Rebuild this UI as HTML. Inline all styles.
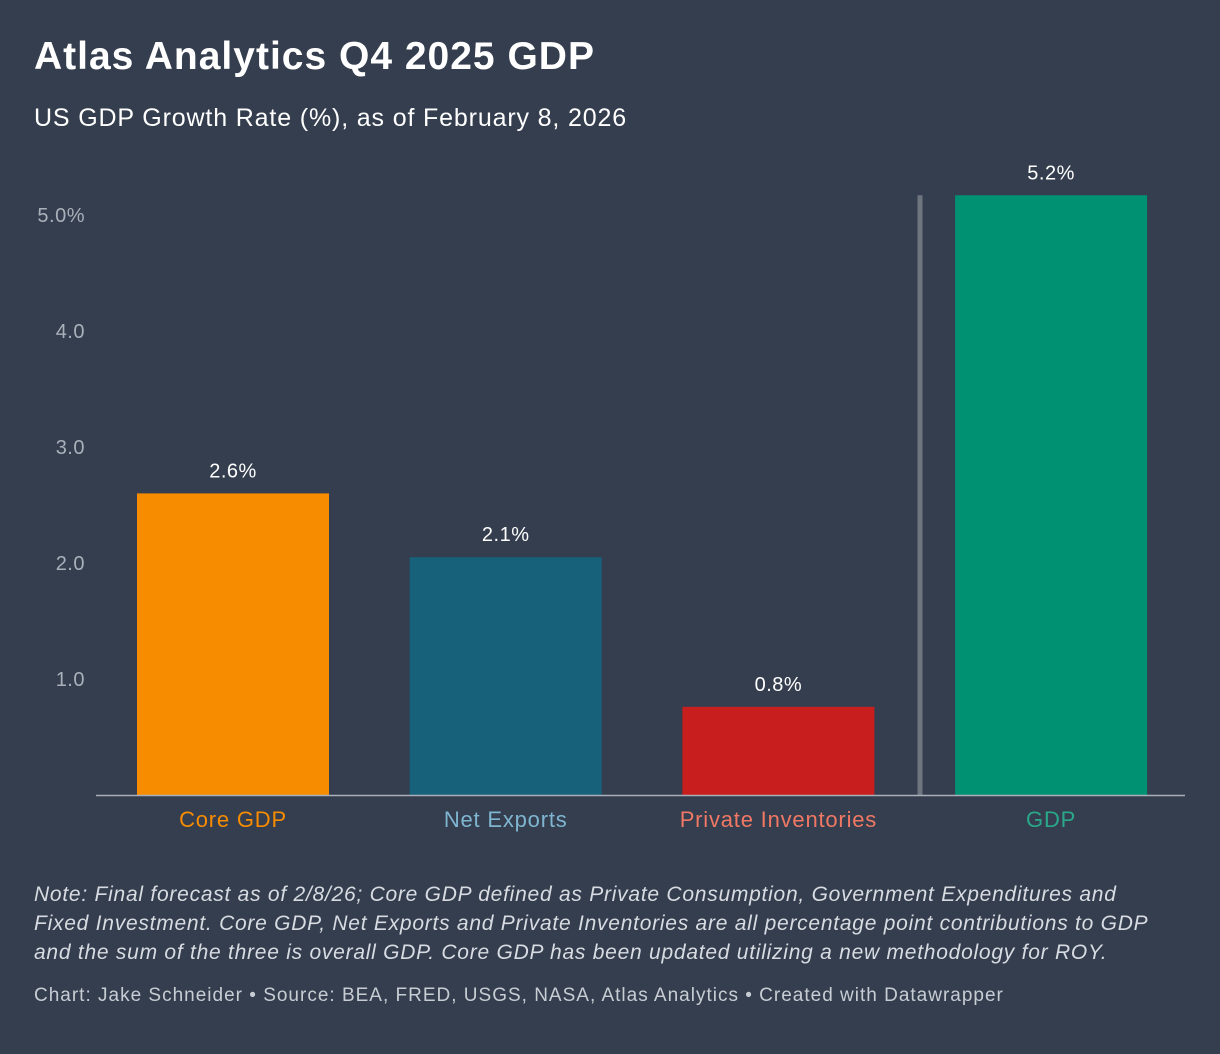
<!DOCTYPE html>
<html><head><meta charset="utf-8"><style>
body{margin:0;width:1220px;height:1054px;background:#343e4e;font-family:"Liberation Sans",sans-serif;overflow:hidden;position:relative}
.t{position:absolute;white-space:nowrap}
</style></head><body>
<div class="t" style="left:34px;top:35px;font-size:39px;letter-spacing:1px;font-weight:bold;color:#fff">Atlas Analytics Q4 2025 GDP</div>
<div class="t" style="left:34px;top:104px;font-size:25px;letter-spacing:0.85px;color:#fff">US GDP Growth Rate (%), as of February 8, 2026</div>
<svg id="chart" width="1220" height="860" style="position:absolute;left:0;top:0"></svg>
<div class="t" style="left:34px;top:880px;font-size:21px;letter-spacing:0.75px;line-height:29px;font-style:italic;color:#d8dce2">Note: Final forecast as of 2/8/26; Core GDP defined as Private Consumption, Government Expenditures and<br>Fixed Investment. Core GDP, Net Exports and Private Inventories are all percentage point contributions to GDP<br>and the sum of the three is overall GDP. Core GDP has been updated utilizing a new methodology for ROY.</div>
<div class="t" style="left:34px;top:985px;font-size:19px;letter-spacing:1px;color:#c8cdd4">Chart: Jake Schneider • Source: BEA, FRED, USGS, NASA, Atlas Analytics • Created with Datawrapper</div>
<script>
const categories=["Core GDP","Net Exports","Private Inventories","GDP"];
const values=[2.6,2.05,0.76,5.17];
const valueLabels=["2.6%","2.1%","0.8%","5.2%"];
const barColors=["#f78c00","#17617b","#c81e1e","#009173"];
const labelColors=["#f78c00","#7fb5d0","#f07864","#2aa88a"];
const ticks=[1,2,3,4,5];
const tickLabels=["1.0","2.0","3.0","4.0","5.0%"];
const ns="http://www.w3.org/2000/svg",svg=document.getElementById('chart');
const y0=795,unit=116;
const y=v=>y0-v*unit;
const x=i=>137+i*272.7;
const bw=192;
function mk(t,a){const e=document.createElementNS(ns,t);for(const k in a)e.setAttribute(k,a[k]);svg.appendChild(e);return e;}
ticks.forEach((t,i)=>{
 const e=mk('text',{x:85,y:y(t)+7,'text-anchor':'end','font-size':20,'letter-spacing':0.5,fill:'#a9b0ba'});
 e.textContent=tickLabels[i];
 
 
});
const sep=mk('line',{x1:920,x2:920,y1:y(5.17),y2:y0,stroke:'#6e7580','stroke-width':5});


categories.forEach((c,i)=>{
 const r=mk('rect',{x:x(i),y:y(values[i]),width:bw,height:values[i]*unit,fill:barColors[i]});
 
 
 const v=mk('text',{x:x(i)+bw/2,y:y(values[i])-16,'text-anchor':'middle','font-size':20,'letter-spacing':0.5,fill:'#fff'});
 v.textContent=valueLabels[i];
 
 
 const l=mk('text',{x:x(i)+bw/2,y:827,'text-anchor':'middle','font-size':22,'letter-spacing':0.8,fill:labelColors[i]});
 l.textContent=c;
 
 
});
const ax=mk('line',{x1:96,x2:1185,y1:y0+0.5,y2:y0+0.5,stroke:'#a9b0ba','stroke-width':1.5});


</script>
</body></html>
